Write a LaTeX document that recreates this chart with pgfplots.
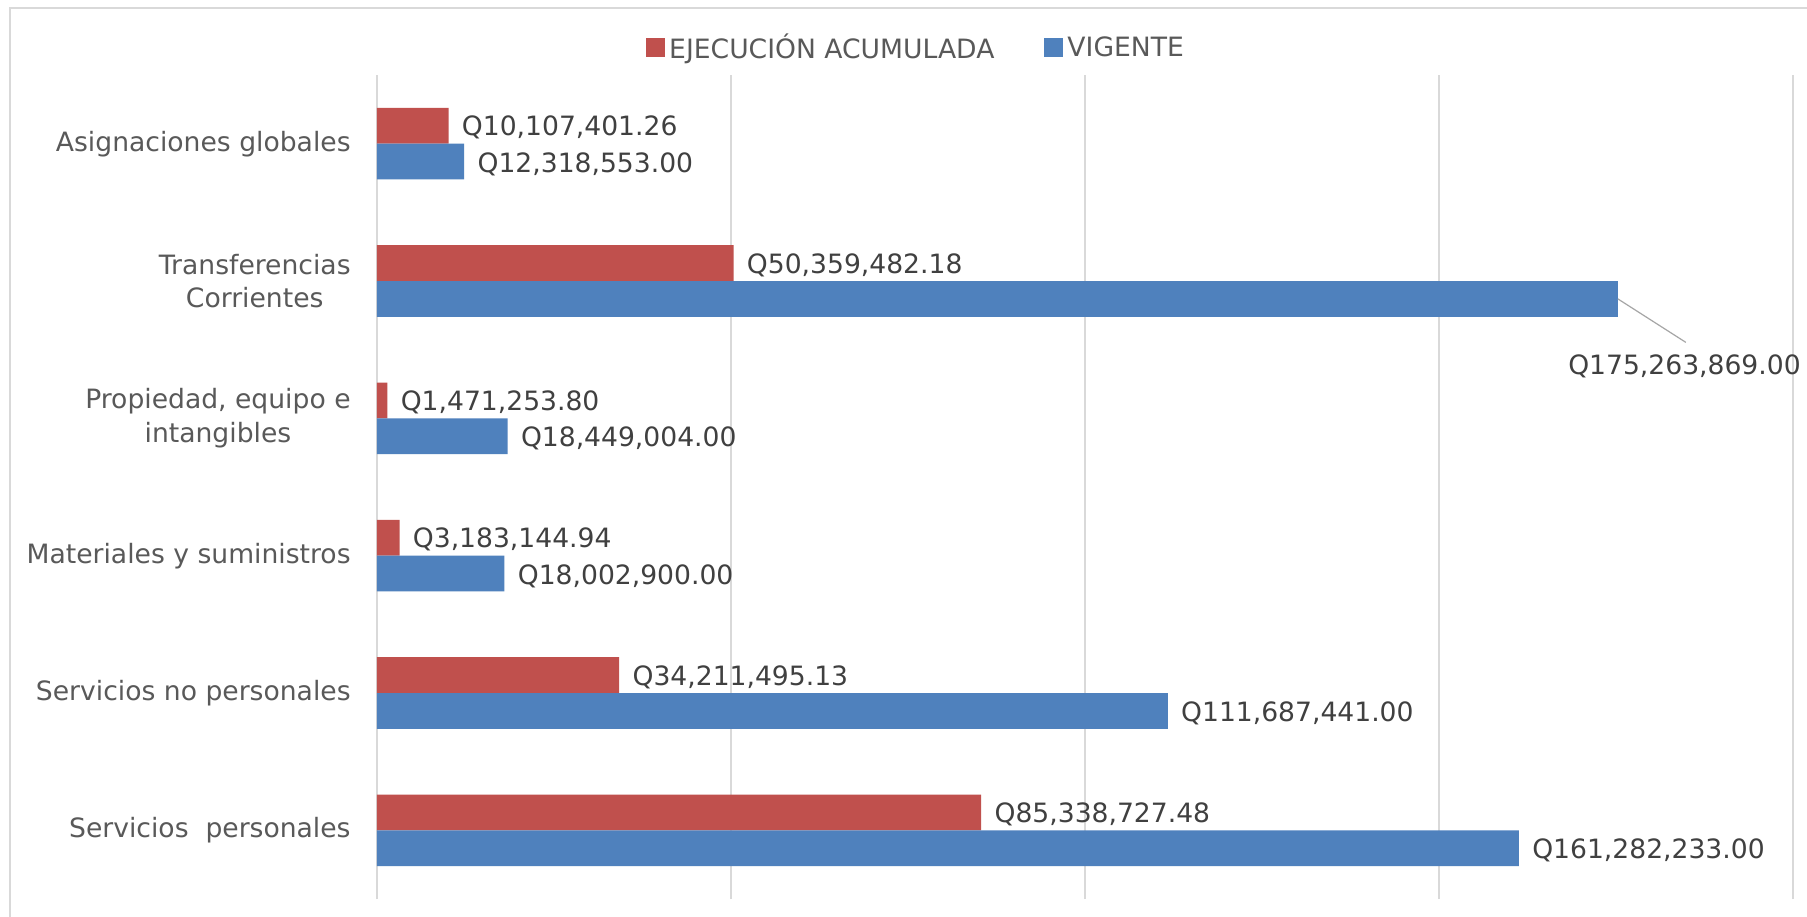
\documentclass[border=0pt]{standalone}
\usepackage{fontspec}
\setmainfont{DejaVu Sans}
\usepackage{pgfplots}
\usepackage{pgfplotstable}
\pgfplotsset{compat=1.18}
\definecolor{vred}{RGB}{192,80,77}
\definecolor{vblue}{RGB}{79,129,189}
\definecolor{gridc}{RGB}{217,217,217}
\definecolor{labc}{RGB}{89,89,89}
\definecolor{datc}{RGB}{64,64,64}
\definecolor{leadc}{RGB}{166,166,166}

\pgfplotstableread{
y v l
5 10107401.26 Q10,107,401.26
4 50359482.18 Q50,359,482.18
3 1471253.80 Q1,471,253.80
2 3183144.94 Q3,183,144.94
1 34211495.13 Q34,211,495.13
0 85338727.48 Q85,338,727.48
}\ejecucion

\pgfplotstableread{
y v l
5 12318553 Q12,318,553.00
4 175263869 Q175,263,869.00
3 18449004 Q18,449,004.00
2 18002900 Q18,002,900.00
1 111687441 Q111,687,441.00
0 161282233 Q161,282,233.00
}\vigente

\begin{document}
\begin{tikzpicture}
\useasboundingbox (-188.5pt,-8.5pt) rectangle (715pt,449.5pt);
\fill[white] (-188.5pt,-8.5pt) rectangle (715pt,449.5pt);
\draw[gridc, line width=0.75pt] (-183.5pt,-9pt) -- (-183.5pt,445.5pt) -- (716pt,445.5pt);
\begin{axis}[
  at={(0pt,0pt)}, anchor=south west,
  width=708pt, height=412pt, scale only axis,
  xmin=0, xmax=200000000, ymin=-0.5, ymax=5.5,
  clip=false,
  axis line style={draw=none},
  tick style={draw=none},
  major tick length=0pt,
  xtick={0,50000000,100000000,150000000,200000000},
  xticklabels={},
  xmajorgrids,
  major grid style={gridc, line width=0.75pt},
  ytick={0,1,2,3,4,5},
  yticklabels={Servicios\ \ personales, Servicios no personales, Materiales y suministros, {Propiedad, equipo e\\intangibles}, {Transferencias\\Corrientes}, Asignaciones globales},
  yticklabel style={align=center, font=\fontsize{13.3}{16.7}\selectfont, text=labc, inner sep=0pt, anchor=east, xshift=-13pt},
  legend style={at={(0.3814,1.0328)}, anchor=center, draw=none, fill=none,
    legend columns=2, font=\fontsize{13.3}{16}\selectfont, text=labc,
    /tikz/every even column/.append style={column sep=23pt},
    nodes={inner sep=2pt}},
  legend cell align=left,
  nodes near coords style={font=\fontsize{13.3}{16}\selectfont, text=datc, anchor=west, inner sep=0pt, xshift=6.5pt},
]
\addplot[xbar, fill=vred, draw=none, bar width=17.9pt, bar shift=8.95pt,
  nodes near coords, point meta=explicit symbolic,
  every node near coord/.append style={yshift=7.95pt},
  legend image code/.code={\fill[vred] (0pt,-4.75pt) rectangle (9.5pt,4.75pt);}]
  table[x=v, y=y, meta=l] {\ejecucion};
\addlegendentry{EJECUCIÓN ACUMULADA}
\addplot[xbar, fill=vblue, draw=none, bar width=17.9pt, bar shift=-8.95pt,
  nodes near coords, point meta=explicit symbolic,
  every node near coord/.append style={yshift=-10.2pt},
  coordinate style/.condition={\coordindex==1}{xshift=-31.5pt, yshift=-32.3pt},
  legend image code/.code={\fill[vblue] (0pt,-4.75pt) rectangle (9.5pt,4.75pt);}]
  table[x=v, y=y, meta=l] {\vigente};
\addlegendentry{VIGENTE}
\draw[leadc, line width=0.6pt] (axis cs:175263869,4) ++(0pt,-8.95pt) -- ++(34pt,-21.75pt);
\end{axis}
\end{tikzpicture}
\end{document}
